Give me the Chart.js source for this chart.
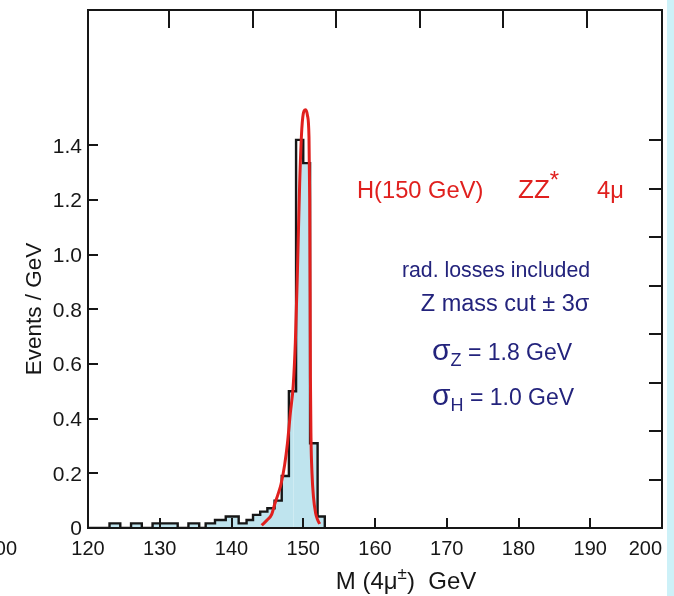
<!DOCTYPE html>
<html><head><meta charset="utf-8">
<script src="https://cdn.jsdelivr.net/npm/chart.js@4/dist/chart.umd.min.js"></script>
<style>html,body{margin:0;padding:0;background:#fff;overflow:hidden}#wrap{position:relative;width:674px;height:596px}</style>
</head><body><div id="wrap"><canvas id="c" width="674" height="596"></canvas></div>
<script>
// ---- data ----
const xTickValues = [120, 130, 140, 150, 160, 170, 180, 190, 200];
const yTickValues = [0, 0.2, 0.4, 0.6, 0.8, 1.0, 1.2, 1.4];
const topTickValues = [1, 2, 3, 4, 5, 6];
const rightTickValues = [1, 2, 3, 4, 5, 6, 7, 8];

// histogram (black outline): left bin edges and the height of each bin (Events / GeV)
const histEdges   = [120, 123, 124.5, 126, 127.5, 129, 132.5, 134, 135.5, 136.4, 137.7, 139.2, 141, 142.1, 143, 144, 145, 146, 147, 148, 149, 150, 150.95, 152, 153];
const histHeights = [0, 0.017, 0, 0.017, 0, 0.017, 0, 0.017, 0, 0.017, 0.029, 0.042, 0.017, 0.029, 0.048, 0.06, 0.072, 0.10, 0.19, 0.50, 1.42, 1.335, 0.31, 0.042, 0];

// light-blue filled region near the peak (outline points)
const peakFillX = [148.6, 148.9, 149.2, 149.5, 149.62, 150.95, 150.95, 152, 152, 153, 153];
const peakFillY = [0.52, 0.68, 0.95, 1.26, 1.335, 1.335, 0.31, 0.31, 0.042, 0.042, 0];

// red signal curve
const curveX = [144.2, 145.0, 145.6, 146.0, 146.5, 146.9, 147.4, 147.8, 148.2, 148.6, 148.9, 149.2, 149.5, 149.8, 150.1, 150.35, 150.58, 150.8, 150.9, 150.96, 151.0, 151.08, 151.22, 151.42, 151.72, 152.0, 152.3];
const curveY = [0.01, 0.03, 0.05, 0.085, 0.125, 0.16, 0.23, 0.31, 0.42, 0.52, 0.68, 0.95, 1.26, 1.46, 1.525, 1.53, 1.51, 1.43, 1.2, 0.85, 0.55, 0.33, 0.2, 0.115, 0.055, 0.03, 0.015];

// ---- layout constants ----
const X_MIN = 120, X_MAX = 200, Y_MAX = 1.895;
const X2_MIN = 0.026, X2_MAX = 6.90;
const Y2_MIN = 0.0103, Y2_MAX = 10.69;
const FONT = "'Liberation Sans', Arial, Helvetica, sans-serif";
const INK = '#161616';
const RED = '#e0201e';
const NAVY = '#23237c';

const histPts = histEdges.map((x, i) => ({x, y: histHeights[i]}));
const split = peakFillX[0];
const tailFill = histPts.filter(p => p.x < split);
tailFill.push({x: split + 0.05, y: tailFill[tailFill.length - 1].y});
const peakFill = peakFillX.map((x, i) => ({x, y: peakFillY[i]}));
const curvePts = curveX.map((x, i) => ({x, y: curveY[i]}));

function drawRuns(ctx, x, y, runs, align) {
  let total = 0;
  runs.forEach(r => { ctx.font = r.size + 'px ' + FONT; total += ctx.measureText(r.t).width; });
  let cx = align === 'center' ? x - total / 2 : x;
  ctx.textAlign = 'left';
  runs.forEach(r => {
    ctx.font = r.size + 'px ' + FONT;
    ctx.fillText(r.t, cx, y + (r.dy || 0));
    cx += ctx.measureText(r.t).width;
  });
}

function zeroPad(s) { s.paddingTop = 0; s.paddingBottom = 0; s.paddingLeft = 0; s.paddingRight = 0; }

const decor = {
  id: 'decor',
  beforeDraw(chart) {
    const ctx = chart.ctx;
    ctx.save();
    ctx.fillStyle = '#ffffff';
    ctx.fillRect(0, 0, chart.width, chart.height);
    ctx.fillStyle = '#cdf1f8';
    ctx.fillRect(667, 0, chart.width - 667, chart.height);
    ctx.restore();
  },
  afterDatasetsDraw(chart) {
    const {ctx, chartArea: a, scales} = chart;
    ctx.save();
    ctx.strokeStyle = INK;
    ctx.lineWidth = 2;
    ctx.beginPath();
    scales.x.ticks.forEach(t => {
      if (t.value > X_MIN && t.value < X_MAX) {
        const px = Math.round(scales.x.getPixelForValue(t.value));
        ctx.moveTo(px, a.bottom); ctx.lineTo(px, a.bottom - 10);
      }
    });
    scales.y.ticks.forEach(t => {
      if (t.value > 0) {
        const py = Math.round(scales.y.getPixelForValue(t.value));
        ctx.moveTo(a.left, py); ctx.lineTo(a.left + 10, py);
      }
    });
    scales.x2.ticks.forEach(t => {
      const px = Math.round(scales.x2.getPixelForValue(t.value));
      ctx.moveTo(px, a.top); ctx.lineTo(px, a.top + 18);
    });
    scales.y2.ticks.forEach(t => {
      const py = Math.round(scales.y2.getPixelForValue(t.value));
      ctx.moveTo(a.right, py); ctx.lineTo(a.right - 13, py);
    });
    ctx.stroke();
    ctx.strokeRect(a.left, a.top, a.right - a.left, a.bottom - a.top);
    ctx.restore();
  },
  afterDraw(chart) {
    const {ctx, chartArea: a, scales} = chart;
    ctx.save();
    ctx.fillStyle = INK;
    ctx.textBaseline = 'alphabetic';
    // x tick labels
    ctx.font = '20px ' + FONT;
    scales.x.ticks.forEach(t => {
      const label = String(t.value);
      const w = ctx.measureText(label).width;
      let px = scales.x.getPixelForValue(t.value);
      let left = px - w / 2;
      if (left + w > a.right) left = a.right - w;
      ctx.textAlign = 'left';
      ctx.fillText(label, left, 555);
    });
    // cut-off label at the far left edge
    ctx.textAlign = 'right';
    ctx.fillText('100', 17, 555);
    // x title
    drawRuns(ctx, 406, 589, [
      {t: 'M (4\u03bc', size: 24},
      {t: '\u00b1', size: 17, dy: -10},
      {t: ')  GeV', size: 24}
    ], 'center');
    // y title
    ctx.save();
    ctx.translate(35, 309);
    ctx.rotate(-Math.PI / 2);
    ctx.textAlign = 'center';
    ctx.textBaseline = 'middle';
    ctx.font = '22.5px ' + FONT;
    ctx.fillText('Events / GeV', 0, 0);
    ctx.restore();
    // red annotation
    ctx.fillStyle = RED;
    ctx.textBaseline = 'alphabetic';
    drawRuns(ctx, 357, 198, [{t: 'H(150 GeV)', size: 23.7}], 'left');
    drawRuns(ctx, 518, 198, [{t: 'ZZ', size: 26}, {t: '*', size: 24, dy: -10}], 'left');
    drawRuns(ctx, 597, 198, [{t: '4\u03bc', size: 23.7}], 'left');
    // navy annotations
    ctx.fillStyle = NAVY;
    drawRuns(ctx, 496, 277, [{t: 'rad. losses included', size: 21.3}], 'center');
    drawRuns(ctx, 505, 311, [{t: 'Z mass cut \u00b1 3\u03c3', size: 23.5}], 'center');
    drawRuns(ctx, 432, 360, [{t: '\u03c3', size: 30}, {t: 'Z', size: 18, dy: 6}, {t: ' = 1.8 GeV', size: 23}], 'left');
    drawRuns(ctx, 432, 405, [{t: '\u03c3', size: 30}, {t: 'H', size: 18, dy: 6}, {t: ' = 1.0 GeV', size: 23}], 'left');
    ctx.restore();
  }
};

new Chart(document.getElementById('c'), {
  type: 'line',
  data: {
    datasets: [
      {data: curvePts, borderColor: RED, borderWidth: 3, pointRadius: 0, fill: false,
       cubicInterpolationMode: 'monotone', order: 0, clip: false},
      {data: histPts, borderColor: INK, borderWidth: 2.4, pointRadius: 0, fill: false,
       stepped: 'before', order: 1},
      {data: peakFill, borderWidth: 0, borderColor: 'rgba(0,0,0,0)', pointRadius: 0,
       backgroundColor: '#bfe4ee', fill: 'origin', tension: 0, order: 2},
      {data: tailFill, borderWidth: 0, borderColor: 'rgba(0,0,0,0)', pointRadius: 0,
       backgroundColor: '#bfe4ee', fill: 'origin', stepped: 'before', order: 3}
    ]
  },
  options: {
    responsive: false,
    animation: false,
    devicePixelRatio: 1,
    layout: {padding: 0},
    plugins: {legend: {display: false}, tooltip: {enabled: false}},
    scales: {
      x: {
        type: 'linear', position: 'bottom', min: X_MIN, max: X_MAX,
        grid: {display: false, drawTicks: false}, border: {display: false},
        ticks: {display: false, stepSize: 10},
        afterBuildTicks: s => { s.ticks = xTickValues.map(v => ({value: v})); },
        afterFit: s => { s.height = 68; zeroPad(s); }
      },
      x2: {
        type: 'linear', position: 'top', min: X2_MIN, max: X2_MAX,
        grid: {display: false, drawTicks: false}, border: {display: false}, ticks: {display: false},
        afterBuildTicks: s => { s.ticks = topTickValues.map(v => ({value: v})); },
        afterFit: s => { s.height = 10; zeroPad(s); }
      },
      y: {
        type: 'linear', position: 'left', min: 0, max: Y_MAX,
        grid: {display: false, drawTicks: false}, border: {display: false},
        ticks: {
          padding: 6, color: INK, font: {family: FONT, size: 21}, labelOffset: 1.5,
          callback: v => (v === 0 ? '0' : v.toFixed(1))
        },
        afterBuildTicks: s => { s.ticks = yTickValues.map(v => ({value: v})); },
        afterFit: s => { s.width = 88; zeroPad(s); }
      },
      y2: {
        type: 'linear', position: 'right', min: Y2_MIN, max: Y2_MAX,
        grid: {display: false, drawTicks: false}, border: {display: false}, ticks: {display: false},
        afterBuildTicks: s => { s.ticks = rightTickValues.map(v => ({value: v})); },
        afterFit: s => { s.width = 12; zeroPad(s); }
      }
    }
  },
  plugins: [decor]
});
</script>
</body></html>
